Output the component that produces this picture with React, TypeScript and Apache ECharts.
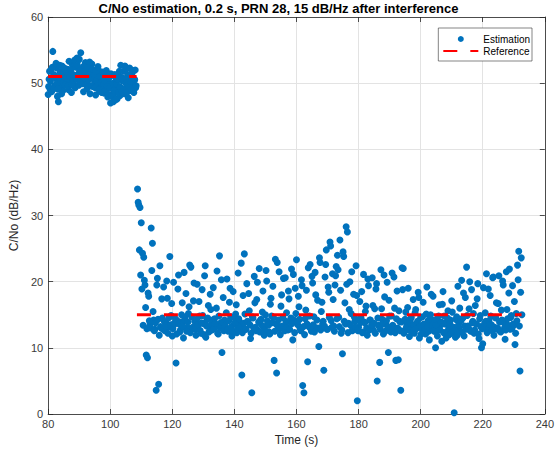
import React, { useEffect, useRef } from "react";
import * as echarts from "echarts";

const titleText = "C/No estimation, 0.2 s, PRN 28, 15 dB/Hz after interference";
const xAxisName = "Time (s)";
const yAxisName = "C/No (dB/Hz)";
const estimationName = "Estimation";
const referenceName = "Reference";

const xMin = 80;
const xMax = 240;
const xInterval = 20;
const yMin = 0;
const yMax = 60;
const yInterval = 10;

// Estimation before interference, part A (every 0.3 s from 80.0 s)
const seg1aStart = 80;
const seg1aStep = 0.3;
const seg1aValues = [
  48.3, 50.6, 49.1, 52.0, 48.8, 54.8, 51.3, 49.6, 50.8, 52.3,
  48.0, 47.2, 50.2, 51.7, 49.4, 52.6, 48.9, 50.9, 49.8, 51.4,
  50.3, 52.1, 49.0, 51.8, 50.5, 48.6, 52.8, 50.0, 51.2, 49.3,
  52.4, 53.8, 50.7, 49.7, 51.9, 54.6, 50.1, 52.2, 48.7, 51.5,
  53.1, 50.4, 49.2, 52.5, 51.0, 48.4, 50.8, 52.9, 49.5, 51.6,
  50.2, 48.2, 51.3, 49.9, 52.0, 50.6, 48.8, 51.1, 49.4, 50.3,
  48.5, 50.9, 49.0, 51.5, 47.9, 50.1, 48.3, 47.0, 49.6, 51.2,
  47.2, 49.8, 48.6, 50.7, 47.6, 49.2, 51.0, 48.1, 52.7, 50.4,
  49.0, 51.8, 48.4, 50.2, 52.1, 49.5, 47.8, 50.9, 48.9, 51.3,
  49.9, 51.9, 48.6, 50.5, 49.3,
];

// Estimation before interference, part B (every 0.3 s from 80.15 s)
const seg1bStart = 80.15;
const seg1bStep = 0.3;
const seg1bValues = [
  49.5, 51.8, 50.3, 48.7, 52.4, 50.9, 49.2, 51.1, 53.0, 50.0,
  49.1, 51.0, 52.7, 50.5, 48.4, 51.6, 50.2, 52.3, 49.7, 50.8,
  51.5, 49.6, 53.3, 50.9, 52.0, 49.8, 51.3, 50.4, 53.5, 51.0,
  50.6, 52.7, 51.4, 53.6, 50.2, 52.0, 51.1, 49.9, 52.6, 50.7,
  51.9, 49.8, 52.3, 50.5, 53.2, 51.4, 49.6, 52.1, 50.8, 51.2,
  49.3, 51.8, 50.4, 52.5, 49.0, 51.0, 50.1, 48.6, 51.7, 49.8,
  50.5, 48.9, 51.9, 49.5, 48.2, 50.8, 49.3, 51.4, 48.0, 50.0,
  48.9, 51.3, 47.5, 49.9, 50.6, 48.5, 51.8, 49.4, 50.9, 48.7,
  50.7, 49.1, 52.6, 50.0, 48.6, 51.2, 49.7, 52.3, 50.3, 49.0,
  51.6, 48.8, 50.6, 52.0, 49.6,
];

// Estimation after interference, part A (every 0.4 s from 108.8 s)
const seg2aStart = 108.8;
const seg2aStep = 0.4;
const seg2aValues = [
  34.0, 31.6, 31.2, 28.9, 24.3, 23.7, 19.5, 8.9, 8.5, 17.8,
  13.5, 28.1, 25.8, 14.2, 12.8, 3.6, 20.5, 4.5, 22.4, 13.0,
  14.5, 19.2, 12.6, 13.8, 17.5, 13.2, 23.8, 14.9, 11.8, 19.9,
  13.6, 7.7, 14.1, 21.0, 12.4, 13.9, 16.8, 11.5, 14.6, 18.2,
  13.1, 15.2, 22.5, 22.2, 12.9, 17.1, 14.0, 11.9, 19.6, 13.4,
  14.8, 12.2, 18.8, 13.7, 20.9, 11.6, 14.3, 16.4, 13.0, 15.8,
  12.7, 19.1, 14.4, 13.3, 21.6, 12.1, 23.9, 13.8, 9.3, 17.6,
  14.2, 13.0, 20.4, 12.5, 16.9, 14.7, 11.8, 18.5, 13.6, 15.1,
  12.3, 21.3, 14.0, 13.2, 5.9, 17.9, 24.2, 12.8, 19.7, 13.9,
  15.6, 11.4, 3.2, 14.5, 20.8, 13.1, 17.3, 12.6, 22.0, 14.2,
  13.4, 18.6, 11.9, 15.0, 20.1, 13.7, 12.4, 16.6, 14.8, 19.3,
  8.1, 23.4, 6.2, 13.3, 21.5, 12.0, 18.0, 14.6, 13.1, 20.6,
  15.3, 12.7, 17.4, 13.9, 21.9, 11.2, 14.2, 19.0, 23.3, 13.5,
  16.2, 12.9, 20.3, 4.3, 3.2, 14.4, 18.7, 7.9, 13.2, 22.6,
  12.5, 19.8, 14.7, 21.4, 13.0, 17.2, 10.2, 22.9, 15.5, 13.6,
  6.6, 20.7, 24.8, 12.8, 18.4, 26.0, 14.1, 21.2, 13.3, 19.5,
  22.3, 24.0, 14.6, 26.3, 12.2, 9.1, 23.8, 16.8, 28.3, 27.5,
  13.7, 20.0, 15.2, 12.6, 18.1, 14.0, 22.4, 2.0, 13.1, 17.0,
  14.5, 12.3, 21.1, 13.8, 16.3, 11.9, 19.4, 14.2, 13.0, 20.6,
  12.7, 15.9, 18.9, 5.0, 13.4, 7.8, 21.8, 14.3, 12.1, 17.7,
  13.6, 19.9, 9.3, 14.8, 12.4, 21.3, 13.1, 16.0, 8.1, 18.6,
  8.2, 14.0, 3.6, 22.1, 22.0, 12.6, 15.4, 13.5, 19.0, 11.7,
  14.4, 13.0, 17.3, 12.2, 15.8, 13.7, 18.4, 11.5, 14.6, 12.9,
  16.9, 13.3, 12.1, 19.2, 14.1, 11.2, 15.0, 13.6, 17.8, 12.5,
  10.0, 14.3, 12.7, 16.5, 13.4, 11.0, 18.5, 14.8, 12.3, 13.9,
  15.6, 12.0, 14.2, 17.1, 13.1, 0.2, 11.6, 14.7, 19.3, 13.0,
  12.4, 20.2, 14.5, 11.8, 17.6, 22.2, 13.3, 15.9, 12.6, 18.8,
  14.0, 12.2, 16.4, 13.6, 19.7, 11.4, 14.9, 10.0, 10.6, 13.2,
  15.3, 21.2, 12.8, 14.1, 17.9, 13.5, 20.6, 11.9, 14.6, 16.8,
  13.0, 20.9, 12.5, 15.7, 20.1, 13.8, 11.3, 21.5, 14.4, 18.3,
  12.8, 14.9, 19.4, 13.4, 10.5, 15.2, 22.5, 24.6, 6.5, 23.6,
];

// Estimation after interference, part B (every 0.4 s from 109.0 s)
const seg2bStart = 109.0;
const seg2bStep = 0.4;
const seg2bValues = [
  32.0, 24.8, 21.0, 18.9, 13.4, 20.2, 16.1, 12.9, 18.3, 14.1,
  13.0, 21.7, 15.5, 12.6, 13.8, 19.5, 14.3, 11.9, 13.2, 17.4,
  12.8, 14.0, 13.3, 20.1, 12.2, 14.6, 13.5, 16.7, 12.9, 13.7,
  14.4, 12.1, 18.9, 13.6, 12.7, 15.0, 13.2, 21.4, 14.1, 12.5,
  13.9, 16.2, 12.3, 14.7, 13.1, 19.8, 12.8, 14.3, 13.5, 17.0,
  12.6, 13.8, 14.9, 12.0, 22.4, 13.3, 14.5, 12.4, 18.1, 13.6,
  14.2, 12.9, 13.7, 16.0, 12.2, 14.8, 13.0, 20.3, 13.9, 12.6,
  13.4, 15.3, 12.7, 14.1, 19.0, 13.2, 12.5, 14.6, 13.8, 16.5,
  12.9, 14.4, 13.1, 22.8, 12.3, 13.7, 15.1, 12.8, 14.0, 18.2,
  13.5, 12.2, 14.7, 13.0, 16.8, 12.6, 19.9, 13.9, 12.4, 14.3,
  15.4, 13.2, 12.7, 21.7, 14.1, 13.4, 12.1, 17.5, 13.8, 14.6,
  12.5, 13.6, 22.9, 14.2, 12.9, 16.3, 13.3, 20.5, 12.6, 14.0,
  13.1, 18.6, 12.8, 14.5, 13.7, 21.1, 12.3, 15.2, 13.9, 17.8,
  14.3, 12.6, 19.4, 13.2, 12.0, 15.7, 13.6, 22.1, 14.8, 12.9,
  20.8, 13.5, 12.4, 18.0, 14.2, 13.0, 23.6, 12.7, 16.9, 14.0,
  13.3, 22.6, 12.8, 19.2, 14.6, 25.4, 13.1, 17.3, 12.5, 20.9,
  14.4, 21.8, 13.2, 18.7, 12.7, 24.5, 14.0, 13.6, 19.6, 12.3,
  15.8, 13.4, 21.5, 12.9, 14.7, 13.1, 17.9, 12.6, 14.3, 13.8,
  18.5, 12.4, 13.9, 15.5, 13.0, 20.4, 12.7, 14.2, 13.5, 16.4,
  13.7, 12.2, 19.7, 14.5, 13.3, 12.8, 15.9, 13.6, 21.0, 12.5,
  14.1, 13.2, 17.2, 12.9, 14.8, 13.4, 20.7, 12.3, 14.4, 13.0,
  15.6, 12.6, 13.9, 18.8, 12.2, 14.3, 13.1, 16.1, 12.7, 13.8,
  14.6, 12.4, 13.5, 15.3, 12.9, 14.0, 17.6, 13.3, 12.1, 14.7,
  13.6, 12.8, 15.1, 13.2, 12.5, 14.4, 18.1, 13.0, 12.6, 14.2,
  13.4, 11.8, 14.8, 12.7, 13.9, 16.6, 12.3, 13.6, 11.5, 14.5,
  12.9, 13.7, 12.2, 15.4, 13.1, 12.6, 14.3, 11.9, 13.5, 16.0,
  14.1, 12.4, 18.3, 13.3, 12.8, 14.9, 13.0, 20.0, 12.5, 13.8,
  15.2, 12.7, 13.6, 17.4, 12.1, 14.4, 13.2, 12.9, 19.1, 13.7,
  14.0, 12.3, 18.9, 13.5, 14.8, 12.6, 20.7, 13.1, 14.5, 12.8,
  16.7, 13.9, 12.4, 14.2, 19.5, 13.0, 12.7, 15.8, 13.4, 21.9,
  14.6, 12.9, 13.6, 17.0, 12.2, 14.1, 20.3, 13.3, 18.4, 15.0,
];

// Reference C/No levels
const refBeforeTimes = [80, 108.5];
const refBeforeValue = 51;
const refAfterTimes = [108.6, 232.5];
const refAfterValue = 15;

const FONT = "'Liberation Sans', Arial, Helvetica, sans-serif";
const AXIS_COLOR = "#262626";
const GRID_COLOR = "#e3e3e3";
const BLUE = "#0072BD";
const RED = "#FF0000";

function toPoints(start: number, step: number, values: number[]) {
  return values.map((v, i) => [Math.round((start + i * step) * 100) / 100, v]);
}

export default function App() {
  const ref = useRef<HTMLDivElement>(null);

  useEffect(() => {
    if (!ref.current) return;
    const chart = echarts.init(ref.current, null, { renderer: "svg" });

    const estimation = [
      ...toPoints(seg1aStart, seg1aStep, seg1aValues),
      ...toPoints(seg1bStart, seg1bStep, seg1bValues),
      ...toPoints(seg2aStart, seg2aStep, seg2aValues),
      ...toPoints(seg2bStart, seg2bStep, seg2bValues),
    ];
    const refBefore = refBeforeTimes.map((t) => [t, refBeforeValue]);
    const refAfter = refAfterTimes.map((t) => [t, refAfterValue]);

    const axisCommon = {
      axisLine: { show: true, onZero: false, lineStyle: { color: AXIS_COLOR, width: 0.8 } },
      axisTick: { show: true, inside: true, length: 5, lineStyle: { color: AXIS_COLOR, width: 0.8 } },
    };

    chart.setOption({
      animation: false,
      backgroundColor: "#ffffff",
      textStyle: { fontFamily: FONT },
      title: {
        text: titleText,
        left: "center",
        top: -3,
        padding: [5, 0, 5, 36],
        textStyle: { fontFamily: FONT, fontSize: 13, fontWeight: "bold", color: "#000" },
      },
      grid: { left: 43, right: 9, top: 17, bottom: 43 },
      legend: {
        orient: "vertical",
        right: 25,
        top: 28,
        padding: [5, 2, 4, 4],
        itemGap: 0,
        itemWidth: 35,
        itemHeight: 6,
        backgroundColor: "#fff",
        borderColor: "#333",
        borderWidth: 0.6,
        textStyle: { fontFamily: FONT, fontSize: 10, color: "#000", lineHeight: 12 },
        data: [
          { name: estimationName, icon: "circle" },
          { name: referenceName, itemStyle: { opacity: 0 } },
        ],
      },
      xAxis: [
        {
          type: "value",
          min: xMin,
          max: xMax,
          interval: xInterval,
          name: xAxisName,
          nameLocation: "middle",
          nameGap: 20,
          nameTextStyle: { fontFamily: FONT, fontSize: 12, color: AXIS_COLOR },
          ...axisCommon,
          axisLabel: { fontFamily: FONT, fontSize: 11, color: "#3a3a3a", margin: 4 },
          splitLine: { show: true, lineStyle: { color: GRID_COLOR, width: 1 } },
        },
        {
          type: "value",
          position: "top",
          min: xMin,
          max: xMax,
          interval: xInterval,
          ...axisCommon,
          axisLabel: { show: false },
          splitLine: { show: false },
        },
      ],
      yAxis: [
        {
          type: "value",
          min: yMin,
          max: yMax,
          interval: yInterval,
          name: yAxisName,
          nameLocation: "middle",
          nameGap: 22,
          nameTextStyle: { fontFamily: FONT, fontSize: 12, color: AXIS_COLOR },
          ...axisCommon,
          axisLabel: { fontFamily: FONT, fontSize: 11, color: "#3a3a3a", margin: 5 },
          splitLine: { show: true, lineStyle: { color: GRID_COLOR, width: 1 } },
        },
        {
          type: "value",
          position: "right",
          min: yMin,
          max: yMax,
          interval: yInterval,
          ...axisCommon,
          axisLabel: { show: false },
          splitLine: { show: false },
        },
      ],
      series: [
        {
          name: estimationName,
          type: "scatter",
          data: estimation,
          symbol: "circle",
          symbolSize: 7,
          itemStyle: { color: BLUE, opacity: 1 },
          z: 2,
        },
        {
          name: referenceName,
          type: "line",
          data: refBefore,
          symbol: "none",
          lineStyle: { color: RED, width: 3, type: [14, 13] },
          itemStyle: { color: RED },
          z: 3,
        },
        {
          name: referenceName,
          type: "line",
          data: refAfter,
          symbol: "none",
          lineStyle: { color: RED, width: 3, type: [14, 13] },
          itemStyle: { color: RED },
          z: 3,
        },
      ],
    });

    return () => chart.dispose();
  }, []);

  return (
    <div
      ref={ref}
      style={{ position: "fixed", left: 0, top: 0, width: 557, height: 457, background: "#fff" }}
    />
  );
}
